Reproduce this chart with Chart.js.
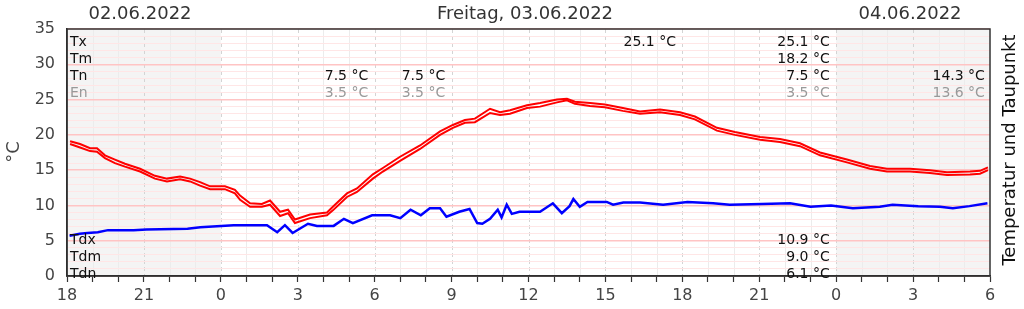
<!DOCTYPE html>
<html>
<head>
<meta charset="utf-8">
<script src="https://cdn.jsdelivr.net/npm/chart.js@4"></script>
<style>
  html, body { margin: 0; padding: 0; background: #fff; }
  #wrap { width: 1024px; height: 309px; }
</style>
</head>
<body>
<div id="wrap"><canvas id="chart" width="1024" height="309"></canvas></div>
<script>
// hours since 02.06.2022 18:00
const tempHours = [0.12,0.51,0.9,1.17,1.48,1.87,2.26,2.85,3.43,3.9,4.41,4.8,5.19,5.58,6.16,6.55,6.75,7.14,7.6,7.92,8.31,8.62,8.89,9.48,10.14,10.37,10.92,11.31,11.93,12.32,12.99,13.77,14.55,15.05,15.52,15.91,16.5,16.89,17.28,17.94,18.45,19.11,19.5,19.81,20.4,20.98,21.68,22.35,23.13,23.91,24.49,25.35,26.05,27.03,27.81,28.59,29.37,30.42,31.32,31.98,32.88,33.66,34.32,35.22,35.61,35.92];
const tempA = [19.1,18.7,18.1,18.1,17.1,16.5,15.9,15.2,14.2,13.8,14.1,13.8,13.3,12.7,12.7,12.2,11.4,10.3,10.2,10.7,9.1,9.4,8.0,8.7,9.0,9.8,11.7,12.4,14.4,15.3,16.9,18.5,20.5,21.4,22.1,22.3,23.7,23.2,23.5,24.2,24.5,25.0,25.1,24.7,24.5,24.3,23.8,23.3,23.6,23.2,22.6,21.0,20.4,19.7,19.4,18.8,17.5,16.5,15.6,15.2,15.2,15.0,14.7,14.8,14.9,15.4];
const tempB = [18.7,18.2,17.7,17.6,16.7,16.0,15.5,14.8,13.8,13.4,13.7,13.4,12.8,12.3,12.3,11.7,10.8,9.8,9.8,10.1,8.5,8.9,7.5,8.2,8.6,9.3,11.2,11.9,13.8,14.8,16.3,18.0,20.0,21.0,21.7,21.8,23.1,22.8,23.0,23.8,24.0,24.6,24.9,24.4,24.1,23.9,23.4,23.0,23.2,22.8,22.2,20.6,20.0,19.3,19.0,18.4,17.1,16.1,15.2,14.8,14.8,14.6,14.3,14.4,14.5,15.0];

const dewHours = [0.1,0.5,0.8,1.2,1.6,2.6,3.1,4.7,5.2,6.5,7.8,8.2,8.5,8.8,9.4,9.75,10.4,10.8,11.15,11.9,12.6,13.0,13.4,13.8,14.15,14.55,14.8,15.3,15.7,16.0,16.2,16.5,16.8,16.95,17.15,17.35,17.65,18.45,18.95,19.3,19.6,19.75,20.0,20.3,21.05,21.3,21.7,22.35,23.25,24.2,25.2,25.85,27.1,28.2,29.0,29.8,30.65,31.7,32.2,33.2,34.05,34.55,35.2,35.9];
const dewPoint = [5.7,6.0,6.1,6.2,6.5,6.5,6.6,6.7,6.9,7.2,7.2,6.2,7.2,6.1,7.4,7.1,7.1,8.1,7.5,8.6,8.6,8.2,9.4,8.6,9.6,9.6,8.4,9.1,9.5,7.5,7.4,8.1,9.4,8.3,10.1,8.8,9.1,9.1,10.3,8.9,9.9,10.9,9.8,10.5,10.5,10.1,10.4,10.4,10.1,10.5,10.3,10.1,10.2,10.3,9.8,10.0,9.6,9.8,10.1,9.9,9.8,9.6,9.9,10.3];

// x tick labels every 3 hours, starting 18:00
const hourLabels = ['18','21','0','3','6','9','12','15','18','21','0','3','6'];
const dayTitles = ['02.06.2022', 'Freitag, 03.06.2022', '04.06.2022'];
const dayStarts = [0, 6, 30];   // hour offsets where each day begins
const dayEnds = [6, 30, 36];

// stats texts: [text, hour of right edge, row]
const tempRowNames = ['Tx', 'Tm', 'Tn', 'En'];
const dewRowNames = ['Tdx', 'Tdm', 'Tdn'];
const tempStats = [
  ['7.5 °C', 11.75, 2], ['3.5 °C', 11.75, 3],
  ['7.5 °C', 14.75, 2], ['3.5 °C', 14.75, 3],
  ['25.1 °C', 23.75, 0],
  ['25.1 °C', 29.75, 0], ['18.2 °C', 29.75, 1], ['7.5 °C', 29.75, 2], ['3.5 °C', 29.75, 3],
  ['14.3 °C', 35.8, 2], ['13.6 °C', 35.8, 3]
];
const dewStats = [['10.9 °C', 29.75, 0], ['9.0 °C', 29.75, 1], ['6.1 °C', 29.75, 2]];

const FONT = "'DejaVu Sans', sans-serif";

const toXY = (xs, ys) => xs.map((x, i) => ({ x: x, y: ys[i] }));

const decorPlugin = {
  id: 'decor',
  beforeDraw(chart) {
    const { ctx, chartArea: a, scales: { x } } = chart;
    ctx.save();
    // day shading
    dayStarts.forEach((s, i) => {
      ctx.fillStyle = i === 1 ? '#ffffff' : '#f4f4f4';
      const x0 = x.getPixelForValue(s), x1 = x.getPixelForValue(dayEnds[i]);
      ctx.fillRect(x0, a.top, x1 - x0, a.bottom - a.top);
    });
    // vertical grid
    for (let h = 1; h < 36; h++) {
      const px = Math.round(x.getPixelForValue(h)) + 0.5;
      ctx.beginPath();
      if (h % 3 === 0) {
        ctx.strokeStyle = '#d4d4d4';
        ctx.setLineDash([4, 3]);
      } else {
        ctx.strokeStyle = '#ececec';
        ctx.setLineDash([]);
      }
      ctx.lineWidth = 1;
      ctx.moveTo(px, a.top);
      ctx.lineTo(px, a.bottom);
      ctx.stroke();
    }
    ctx.restore();
  },
  afterDraw(chart) {
    const { ctx, chartArea: a, scales: { x } } = chart;
    ctx.save();
    // frame
    ctx.strokeStyle = '#333';
    ctx.lineWidth = 1.5;
    ctx.strokeRect(a.left, a.top, a.right - a.left, a.bottom - a.top);

    // day titles
    ctx.fillStyle = '#333';
    ctx.font = '18px ' + FONT;
    ctx.textAlign = 'center';
    ctx.textBaseline = 'middle';
    ctx.fillText(dayTitles[0], 140, 14);
    ctx.fillText(dayTitles[1], 525, 14);
    ctx.fillText(dayTitles[2], 910, 14);

    // axis titles
    ctx.save();
    ctx.translate(14, 152);
    ctx.rotate(-Math.PI / 2);
    ctx.fillStyle = '#444';
    ctx.fillText('°C', 0, 0);
    ctx.restore();
    ctx.save();
    ctx.translate(1010, 150);
    ctx.rotate(-Math.PI / 2);
    ctx.fillStyle = '#111';
    ctx.fillText('Temperatur und Taupunkt', 0, 0);
    ctx.restore();

    // stats
    ctx.font = '14px ' + FONT;
    ctx.textBaseline = 'middle';
    ctx.textAlign = 'left';
    const rowY = r => 42 + r * 17;
    const dewY = r => 240 + r * 17;
    tempRowNames.forEach((n, r) => {
      ctx.fillStyle = r === 3 ? '#999' : '#111';
      ctx.fillText(n, a.left + 3, rowY(r));
    });
    dewRowNames.forEach((n, r) => {
      ctx.fillStyle = '#111';
      ctx.fillText(n, a.left + 3, dewY(r));
    });
    ctx.textAlign = 'right';
    tempStats.forEach(([t, h, r]) => {
      ctx.fillStyle = r === 3 ? '#999' : '#111';
      ctx.fillText(t, x.getPixelForValue(h), rowY(r));
    });
    dewStats.forEach(([t, h, r]) => {
      ctx.fillStyle = '#111';
      ctx.fillText(t, x.getPixelForValue(h), dewY(r));
    });
    ctx.restore();
  }
};

new Chart(document.getElementById('chart'), {
  type: 'line',
  data: {
    datasets: [
      { data: toXY(tempHours, tempA), borderColor: '#ff0000', borderWidth: 2 },
      { data: toXY(tempHours, tempB), borderColor: '#ff0000', borderWidth: 2 },
      { data: toXY(dewHours, dewPoint), borderColor: '#0000ff', borderWidth: 2.5 }
    ]
  },
  options: {
    responsive: false,
    animation: false,
    events: [],
    elements: { point: { radius: 0 }, line: { tension: 0 } },
    layout: { padding: { left: 0, right: 34, top: 29, bottom: 0 } },
    plugins: { legend: { display: false }, tooltip: { enabled: false } },
    scales: {
      x: {
        type: 'linear',
        min: 0,
        max: 36,
        afterFit: s => { s.height = 33; },
        afterBuildTicks: s => { s.ticks = Array.from({ length: 37 }, (_, i) => ({ value: i })); },
        ticks: {
          autoSkip: false,
          maxRotation: 0,
          padding: 4,
          color: '#444',
          font: { family: FONT, size: 16 },
          callback: v => (v % 3 === 0 ? hourLabels[v / 3] : '')
        },
        grid: { drawOnChartArea: false, drawTicks: true, tickLength: 6, tickColor: '#333', tickWidth: 1.2 },
        border: { color: '#222', width: 1.5 }
      },
      y: {
        min: 0,
        max: 35,
        afterFit: s => { s.width = 67; },
        afterBuildTicks: s => { s.ticks = Array.from({ length: 36 }, (_, i) => ({ value: i })); },
        ticks: {
          autoSkip: false,
          padding: 12,
          color: '#444',
          font: { family: FONT, size: 16 },
          callback: v => (v % 5 === 0 ? String(v) : '')
        },
        grid: {
          drawTicks: false,
          color: c => (c.tick && c.tick.value % 5 === 0 ? '#ffc4c4' : '#ffe6e6'),
          lineWidth: c => (c.tick && c.tick.value % 5 === 0 ? 1.5 : 1)
        },
        border: { color: '#222', width: 1.5 }
      }
    }
  },
  plugins: [decorPlugin]
});
</script>
</body>
</html>
